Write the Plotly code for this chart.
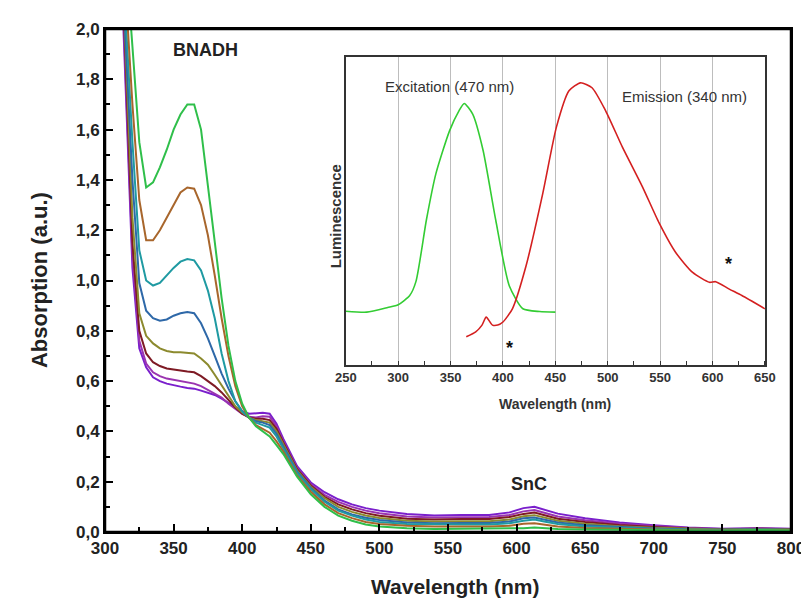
import plotly.graph_objects as go

# ---------------- main absorption data ----------------
wl = [310, 315, 320, 325, 330, 335, 340, 345, 350, 355, 360, 365, 370, 375, 380, 385,
      390, 395, 400, 405, 410, 415, 420, 425, 430, 440, 450, 460, 470, 480, 490, 500,
      520, 540, 560, 580, 595, 605, 613, 620, 630, 650, 675, 700, 725, 750, 775, 800]

green = [2.9, 2.3, 1.93, 1.55, 1.37, 1.39, 1.45, 1.52, 1.60, 1.66, 1.70, 1.70, 1.60, 1.38, 1.15, 0.93,
         0.74, 0.60, 0.51, 0.455, 0.42, 0.40, 0.38, 0.345, 0.31, 0.22, 0.15, 0.10, 0.065, 0.045, 0.03, 0.022,
         0.015, 0.012, 0.012, 0.012, 0.012, 0.015, 0.018, 0.015, 0.012, 0.01, 0.008, 0.006, 0.005, 0.005, 0.008, 0.006]
brown = [2.8, 2.15, 1.70, 1.32, 1.16, 1.16, 1.20, 1.25, 1.30, 1.35, 1.37, 1.365, 1.30, 1.18, 1.02, 0.85,
         0.70, 0.58, 0.50, 0.455, 0.425, 0.41, 0.395, 0.36, 0.32, 0.225, 0.16, 0.11, 0.075, 0.055, 0.04, 0.032,
         0.025, 0.022, 0.022, 0.022, 0.025, 0.033, 0.035, 0.03, 0.022, 0.016, 0.012, 0.009, 0.007, 0.006, 0.009, 0.007]
teal = [2.7, 2.05, 1.55, 1.12, 1.00, 0.98, 0.99, 1.02, 1.05, 1.075, 1.085, 1.08, 1.04, 0.96, 0.85, 0.71,
        0.60, 0.52, 0.48, 0.455, 0.435, 0.425, 0.415, 0.38, 0.33, 0.235, 0.17, 0.12, 0.085, 0.065, 0.05, 0.04,
        0.032, 0.03, 0.03, 0.03, 0.035, 0.045, 0.05, 0.042, 0.032, 0.022, 0.016, 0.012, 0.009, 0.008, 0.01, 0.008]
blue = [2.65, 1.95, 1.40, 0.99, 0.88, 0.85, 0.84, 0.845, 0.86, 0.87, 0.875, 0.87, 0.83, 0.77, 0.70, 0.63,
        0.57, 0.52, 0.48, 0.455, 0.44, 0.435, 0.425, 0.39, 0.34, 0.24, 0.175, 0.125, 0.09, 0.07, 0.057, 0.048,
        0.038, 0.035, 0.036, 0.036, 0.042, 0.055, 0.058, 0.05, 0.038, 0.027, 0.019, 0.014, 0.01, 0.009, 0.011, 0.009]
olive = [2.6, 1.9, 1.25, 0.87, 0.78, 0.75, 0.73, 0.72, 0.715, 0.715, 0.713, 0.71, 0.69, 0.665, 0.625, 0.585,
         0.54, 0.50, 0.475, 0.455, 0.445, 0.44, 0.435, 0.40, 0.35, 0.245, 0.18, 0.135, 0.10, 0.08, 0.066, 0.056,
         0.045, 0.042, 0.043, 0.043, 0.05, 0.063, 0.067, 0.058, 0.045, 0.033, 0.023, 0.017, 0.012, 0.01, 0.012, 0.01]
maroon = [2.6, 1.85, 1.15, 0.80, 0.71, 0.675, 0.66, 0.65, 0.645, 0.64, 0.638, 0.635, 0.62, 0.60, 0.58, 0.555,
          0.525, 0.495, 0.47, 0.455, 0.45, 0.45, 0.445, 0.41, 0.355, 0.25, 0.185, 0.14, 0.11, 0.09, 0.075, 0.065,
          0.053, 0.05, 0.052, 0.052, 0.06, 0.072, 0.077, 0.067, 0.053, 0.04, 0.028, 0.02, 0.014, 0.011, 0.013, 0.011]
purple = [2.55, 1.8, 1.10, 0.76, 0.67, 0.635, 0.62, 0.61, 0.605, 0.60, 0.595, 0.59, 0.58, 0.565, 0.55, 0.535,
          0.51, 0.49, 0.47, 0.458, 0.455, 0.46, 0.458, 0.42, 0.36, 0.255, 0.19, 0.148, 0.12, 0.10, 0.085, 0.075,
          0.062, 0.058, 0.06, 0.06, 0.068, 0.082, 0.087, 0.077, 0.062, 0.047, 0.033, 0.024, 0.016, 0.012, 0.014, 0.012]
violet = [2.5, 1.75, 1.05, 0.73, 0.655, 0.615, 0.60, 0.59, 0.583, 0.578, 0.573, 0.57, 0.562, 0.553, 0.545, 0.53,
          0.513, 0.495, 0.48, 0.47, 0.472, 0.474, 0.47, 0.43, 0.37, 0.262, 0.197, 0.158, 0.13, 0.11, 0.095, 0.085,
          0.072, 0.066, 0.068, 0.068, 0.078, 0.095, 0.10, 0.09, 0.073, 0.055, 0.038, 0.027, 0.018, 0.013, 0.015, 0.013]

series = [
    ("violet", violet, "#7A1FCC"),
    ("purple", purple, "#9A34B0"),
    ("maroon", maroon, "#7E1A24"),
    ("olive", olive, "#8C8A2E"),
    ("blue", blue, "#2E68A8"),
    ("teal", teal, "#1F9AA2"),
    ("brown", brown, "#A8662C"),
    ("green", green, "#2FBF4A"),
]

# ---------------- inset luminescence data ----------------
exc_wl = [250, 270, 290, 300, 311, 317, 327, 336, 349, 358, 363, 371, 381, 393, 406, 419, 435, 450]
exc_val = [17.3, 17.0, 18.5, 19.4, 22.4, 27.0, 47.1, 62.0, 75.9, 82.4, 84.8, 81.4, 69.6, 47.1, 25.6, 18.1, 17.2, 17.0]

emi_wl = [365, 374, 380, 384, 390, 395, 400, 409, 422, 438, 451, 463, 474, 485, 498, 514, 533, 549,
          565, 581, 597, 603, 616, 628, 650]
emi_val = [9.0, 10.6, 12.8, 15.4, 12.8, 12.8, 13.8, 18.1, 32.0, 55.6, 77.1, 88.9, 91.5, 89.9, 82.4, 70.6, 57.8, 46.0,
           36.3, 29.9, 26.7, 26.9, 24.5, 22.4, 18.1]

main_xticks = [300, 350, 400, 450, 500, 550, 600, 650, 700, 750, 800]
main_yticks = [0.0, 0.2, 0.4, 0.6, 0.8, 1.0, 1.2, 1.4, 1.6, 1.8, 2.0]
inset_xticks = [250, 300, 350, 400, 450, 500, 550, 600, 650]

FONT = "Liberation Sans, Arial, sans-serif"

fig = go.Figure()
for name, vals, col in series:
    fig.add_trace(go.Scatter(x=wl, y=vals, mode="lines", name=name,
                             line=dict(color=col, width=2), xaxis="x", yaxis="y",
                             showlegend=False, hoverinfo="skip"))

fig.add_trace(go.Scatter(x=exc_wl, y=exc_val, mode="lines", line=dict(color="#33CC33", width=1.6, shape="spline", smoothing=0.6),
                         xaxis="x2", yaxis="y2", showlegend=False))
fig.add_trace(go.Scatter(x=emi_wl, y=emi_val, mode="lines", line=dict(color="#D42020", width=1.6, shape="spline", smoothing=0.6),
                         xaxis="x2", yaxis="y2", showlegend=False))

fig.update_layout(
    width=809, height=601,
    margin=dict(l=97, r=25, t=16, b=77),
    paper_bgcolor="white", plot_bgcolor="white",
    separators=",.",
    showlegend=False,
    xaxis=dict(range=[300, 800], tickvals=main_xticks, ticks="inside", ticklen=8, tickwidth=2,
               tickcolor="black", showline=True, linecolor="black", linewidth=2, mirror=True,
               showgrid=False, zeroline=False,
               minor=dict(dtick=25, tick0=300, ticks="inside", ticklen=5, tickwidth=1.5, tickcolor="black"),
               tickfont=dict(family=FONT, size=17, color="#222", weight="bold")),
    yaxis=dict(range=[0, 2], tickvals=main_yticks, tickformat=".1f", ticks="inside", ticklen=8, tickwidth=2,
               tickcolor="black", showline=True, linecolor="black", linewidth=2, mirror=True,
               showgrid=False, zeroline=False,
               minor=dict(dtick=0.1, tick0=0, ticks="inside", ticklen=5, tickwidth=1.5, tickcolor="black"),
               tickfont=dict(family=FONT, size=17, color="#222", weight="bold")),
    xaxis2=dict(domain=[0.351, 0.962], anchor="y2", range=[250, 650], tickvals=inset_xticks,
                ticks="", showline=True, linecolor="#333", linewidth=1.5, mirror=True,
                showgrid=True, gridcolor="#bdbdbd", gridwidth=1, zeroline=False,
                minor=dict(dtick=25, tick0=250, ticks="inside", ticklen=4, tickwidth=1, tickcolor="#333"),
                tickfont=dict(family=FONT, size=13, color="#333", weight="bold")),
    yaxis2=dict(domain=[0.333, 0.945], anchor="x2", range=[0, 100], showticklabels=False, ticks="",
                showline=True, linecolor="#333", linewidth=1.5, mirror=True, showgrid=False, zeroline=False),
    shapes=[dict(type="rect", xref="paper", yref="paper", x0=0, y0=0, x1=1, y1=1,
                 line=dict(color="black", width=2.5), fillcolor="rgba(0,0,0,0)", layer="above")],
)

ann = [
    dict(text="Absorption (a.u.)", xref="paper", yref="paper", x=-0.1165, y=0.50, textangle=-90,
         font=dict(family=FONT, size=22, color="#222", weight="bold"), showarrow=False),
    dict(text="Wavelength (nm)", xref="paper", yref="paper", x=0.51, y=-0.108, yanchor="middle",
         font=dict(family=FONT, size=21, color="#222", weight="bold"), showarrow=False),
    dict(text="BNADH", xref="x", yref="y", x=373, y=1.915,
         font=dict(family=FONT, size=18, color="#222", weight="bold"), showarrow=False),
    dict(text="SnC", xref="x", yref="y", x=609, y=0.19,
         font=dict(family=FONT, size=18, color="#222", weight="bold"), showarrow=False),
    dict(text="Excitation (470 nm)", xref="x2", yref="y2", x=349, y=90.4,
         font=dict(family=FONT, size=15, color="#333"), showarrow=False),
    dict(text="Emission (340 nm)", xref="x2", yref="y2", x=573, y=87.1,
         font=dict(family=FONT, size=15, color="#333"), showarrow=False),
    dict(text="*", xref="x2", yref="y2", x=406, y=5.5,
         font=dict(family=FONT, size=18, color="#111", weight="bold"), showarrow=False),
    dict(text="*", xref="x2", yref="y2", x=615, y=32.5,
         font=dict(family=FONT, size=18, color="#111", weight="bold"), showarrow=False),
    dict(text="Wavelength (nm)", xref="x2", yref="paper", x=450, y=(532 - 403) / 508, yanchor="middle",
         font=dict(family=FONT, size=14, color="#333", weight="bold"), showarrow=False),
    dict(text="Luminescence", xref="paper", yref="paper", x=(325 - 105) / 687, y=(532 - 213) / 508,
         textangle=-90, font=dict(family=FONT, size=15, color="#333", weight="bold"), showarrow=False),
]
fig.update_layout(annotations=ann)

fig.write_html("out.html")
